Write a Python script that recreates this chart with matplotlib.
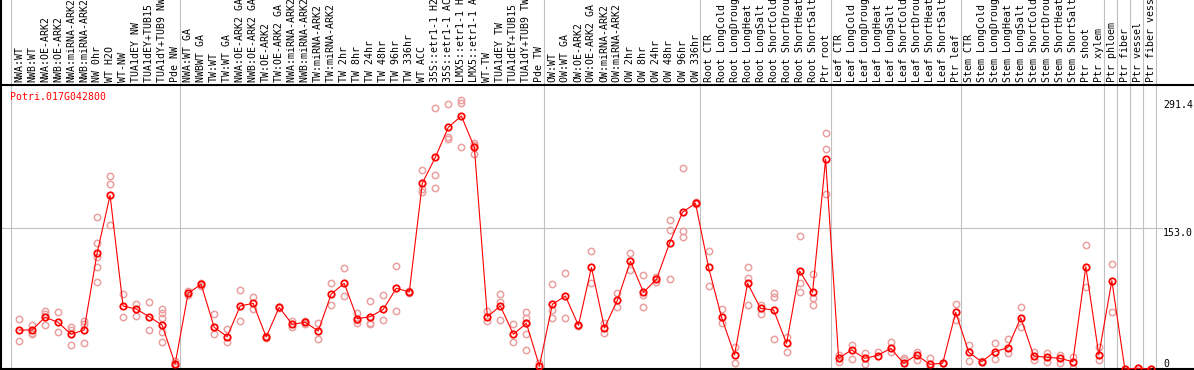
import numpy as np
import matplotlib.pyplot as plt
from matplotlib.transforms import blended_transform_factory

gene = 'Potri.017G042800'

labels = ['NWA:WT', 'NWB:WT', 'NWA:OE-ARK2', 'NWB:OE-ARK2', 'NWA:miRNA-ARK2', 'NWB:miRNA-ARK2',
          'NW 0hr', 'WT H2O', 'WT-NW', 'TUA1dEY NW', 'TUA1dEY+TUB15 NW', 'TUA1dY+TUB9 NW', 'Pde NW',
          'NWA:WT GA', 'NWBWT GA', 'TW:WT', 'TW:WT GA', 'NWA:OE-ARK2 GA', 'NWB:OE-ARK2 GA',
          'TW:OE-ARK2', 'TW:OE-ARK2 GA', 'NWA:miRNA-ARK2 GA', 'NWB:miRNA-ARK2 GA', 'TW:miRNA-ARK2',
          'TW:miRNA-ARK2 GA', 'TW 2hr', 'TW 8hr', 'TW 24hr', 'TW 48hr', 'TW 96hr', 'TW 336hr', 'WT ACC',
          '35S::etr1-1 H2O', '35S::etr1-1 ACC', 'LMX5::etr1-1 H2O', 'LMX5::etr1-1 ACC', 'WT-TW',
          'TUA1dEY TW', 'TUA1dEY+TUB15 TW', 'TUA1dY+TUB9 TW', 'Pde TW',
          'OW:WT', 'OW:WT GA', 'OW:OE-ARK2', 'OW:OE-ARK2 GA', 'OW:miRNA-ARK2', 'OW:miRNA-ARK2 GA',
          'OW 2hr', 'OW 8hr', 'OW 24hr', 'OW 48hr', 'OW 96hr', 'OW 336hr',
          'Root CTR', 'Root LongCold', 'Root LongDrought', 'Root LongHeat', 'Root LongSalt',
          'Root ShortCold', 'Root ShortDrought', 'Root ShortHeat', 'Root ShortSalt', 'Ptr root',
          'Leaf CTR', 'Leaf LongCold', 'Leaf LongDrought', 'Leaf LongHeat', 'Leaf LongSalt',
          'Leaf ShortCold', 'Leaf ShortDrought', 'Leaf ShortHeat', 'Leaf ShortSalt', 'Ptr leaf',
          'Stem CTR', 'Stem LongCold', 'Stem LongDrought', 'Stem LongHeat', 'Stem LongSalt',
          'Stem ShortCold', 'Stem ShortDrought', 'Stem ShortHeat', 'Stem ShortSalt', 'Ptr shoot',
          'Ptr xylem', 'Ptr phloem', 'Ptr fiber', 'Ptr vessel', 'Ptr fiber vessel']

means = [42.2, 42.2, 56.0, 50.6, 37.6, 42.2, 125.3, 188.1, 68.2, 65.0, 56.6, 47.6, 5.4,
         82.0, 91.7, 45.2, 35.0, 68.2, 71.1, 34.7, 66.8, 48.4, 50.6, 41.1, 81.2,
         92.8, 54.5, 56.6, 64.6, 87.4, 83.4, 201.1, 229.2, 261.7, 274.0, 240.1,
         56.6, 68.2, 37.6, 49.5, 3.2,
         70.1, 79.0, 47.3, 110.1, 44.4, 74.7, 116.6, 83.1, 97.1, 136.1, 169.7, 179.4,
         110.1, 56.0, 15.2, 92.8, 65.7, 63.9, 27.8, 106.1, 83.1, 227.1,
         11.6, 20.6, 11.6, 14.6, 22.4, 6.2, 15.2, 5.1, 6.2, 61.4,
         18.1, 7.9, 18.7, 23.1, 55.5, 14.1, 12.7, 11.6, 7.9, 110.8,
         15.2, 95.6, 0, 0.8, 0]

reps = [[53.8, 30.0], [47.6, 38.7, 37.6], [62.8, 59.6, 47.3], [61.4, 39.7], [45.2, 42.2, 25.7],
        [52.3, 48.4, 27.8], [164.3, 136.1, 121.6, 110.1, 94.2], [209.0, 200.0, 155.6],
        [81.2, 56.6], [70.4, 57.4], [72.2, 42.2], [65.0, 61.0, 54.9, 39.7, 28.9], [9.0, 4.2, 3.0],
        [84.0, 80.0], [93.0, 90.0], [59.2, 38.2], [43.3, 28.9], [85.2, 51.7], [77.6, 65.0],
        [35.5, 34.0], [67.5, 66.0], [52.3, 45.2], [52.3, 48.7], [49.5, 32.2], [92.8, 69.3],
        [109.0, 79.0], [60.3, 53.1, 50.1], [73.6, 49.5, 48.4], [80.1, 53.1], [111.5, 62.8],
        [84.5, 82.3], [215.2, 194.6, 191.7], [282.3, 209.7, 195.7], [287.0, 251.5, 248.7],
        [291.4, 287.7, 240.1], [244.4, 243.0, 232.8],
        [62.8, 52.0], [81.2, 72.9, 53.1], [48.4, 28.9], [62.0, 54.9, 49.5, 37.6, 20.6], [6.2],
        [91.7, 63.9, 54.9], [103.6, 54.9], [48.0, 46.5], [127.5, 93.4], [50.1, 38.7], [82.6, 67.5],
        [125.3, 107.2], [101.5, 80.1, 66.8], [99.9, 94.5], [161.3, 150.5, 97.1],
        [217.3, 149.4, 142.6], [180.5, 178.5],
        [127.5, 89.9], [64.6, 49.5], [24.1, 6.2], [110.1, 98.2, 69.3], [69.3, 59.2],
        [82.0, 77.6, 32.5], [35.0, 18.1], [144.0, 92.8, 83.4], [102.9, 76.6, 69.3],
        [255.2, 237.9, 189.2],
        [15.2, 7.9], [26.0, 10.5], [17.0, 5.4], [18.7], [28.9, 18.7], [11.6, 9.7], [18.7, 9.7],
        [11.6, 2.5], [6.5, 6.0], [70.1, 53.1],
        [26.0, 8.7], [9.0], [27.8, 10.5], [32.2, 17.0], [67.5, 45.8], [18.7, 9.7], [17.0, 7.9],
        [15.2, 6.2], [13.3, 0.8], [134.3, 89.1],
        [24.1, 9.7], [113.4, 62.0], [0], [1.5], [0]]

group_starts = [0, 13, 41, 53, 63, 73, 84, 85, 86, 87, 88]
ytick_vals = [291.4, 153.0, 0]

W, H = 1194, 370
colw = 13.01
fig = plt.figure(figsize=(W / 100, H / 100), dpi=100)
ax = fig.add_axes([0, 1 / H, 1, 284 / H])
ax.set_xlim(-19 / colw, (W - 19) / colw)
ax.set_ylim(0, 307.5)
ax.set_xticks([])
ax.set_yticks([])
for s in ['left', 'right']:
    ax.spines[s].set_visible(False)
for s in ['top', 'bottom']:
    ax.spines[s].set_linewidth(1.5)
    ax.spines[s].set_color('black')

mono = 'DejaVu Sans Mono'
# group separators, through label band as well
for g in group_starts:
    ax.axvline(g - 0.62, 0, 1.31, color='#c0c0c0', lw=0.8, clip_on=False, zorder=1)
ax.axvline((1.2 - 19) / colw, 0, 1.31, color='black', lw=1.5, clip_on=False, zorder=5)
ax.axhline(153.0, 0, 1162 / W, color='#c0c0c0', lw=0.8, zorder=1)

# replicates
rx, ry = [], []
for i, r in enumerate(reps):
    rx += [i] * len(r)
    ry += r
ax.plot(rx, ry, 'o', mfc='none', mec='#eba0a0', ms=4.6, mew=1.1, clip_on=False, zorder=2)
x = np.arange(len(means))
ax.plot(x, means, '-', color='red', lw=0.8, marker='o', mfc='none', mec='red',
        ms=4.6, mew=1.3, clip_on=False, zorder=3)

tr = blended_transform_factory(ax.transData, ax.transAxes)
for i, lab in enumerate(labels):
    ax.text(i, 1 + 3 / 284, lab, transform=tr, rotation=90, ha='center', va='bottom',
            fontsize=7.1, family=mono, clip_on=False)

fig.text(10 / W, 1 - 97 / H, gene, color='red', fontsize=7.1, family=mono, va='center')

ty = blended_transform_factory(fig.transFigure, ax.transData)
for v in ytick_vals:
    ax.text(1163 / W, v, '0' if v == 0 else '%.1f' % v, transform=ty, fontsize=7.1,
            family=mono, va='bottom' if v == 0 else 'top', ha='left')

fig.savefig('out.png', dpi=100)
